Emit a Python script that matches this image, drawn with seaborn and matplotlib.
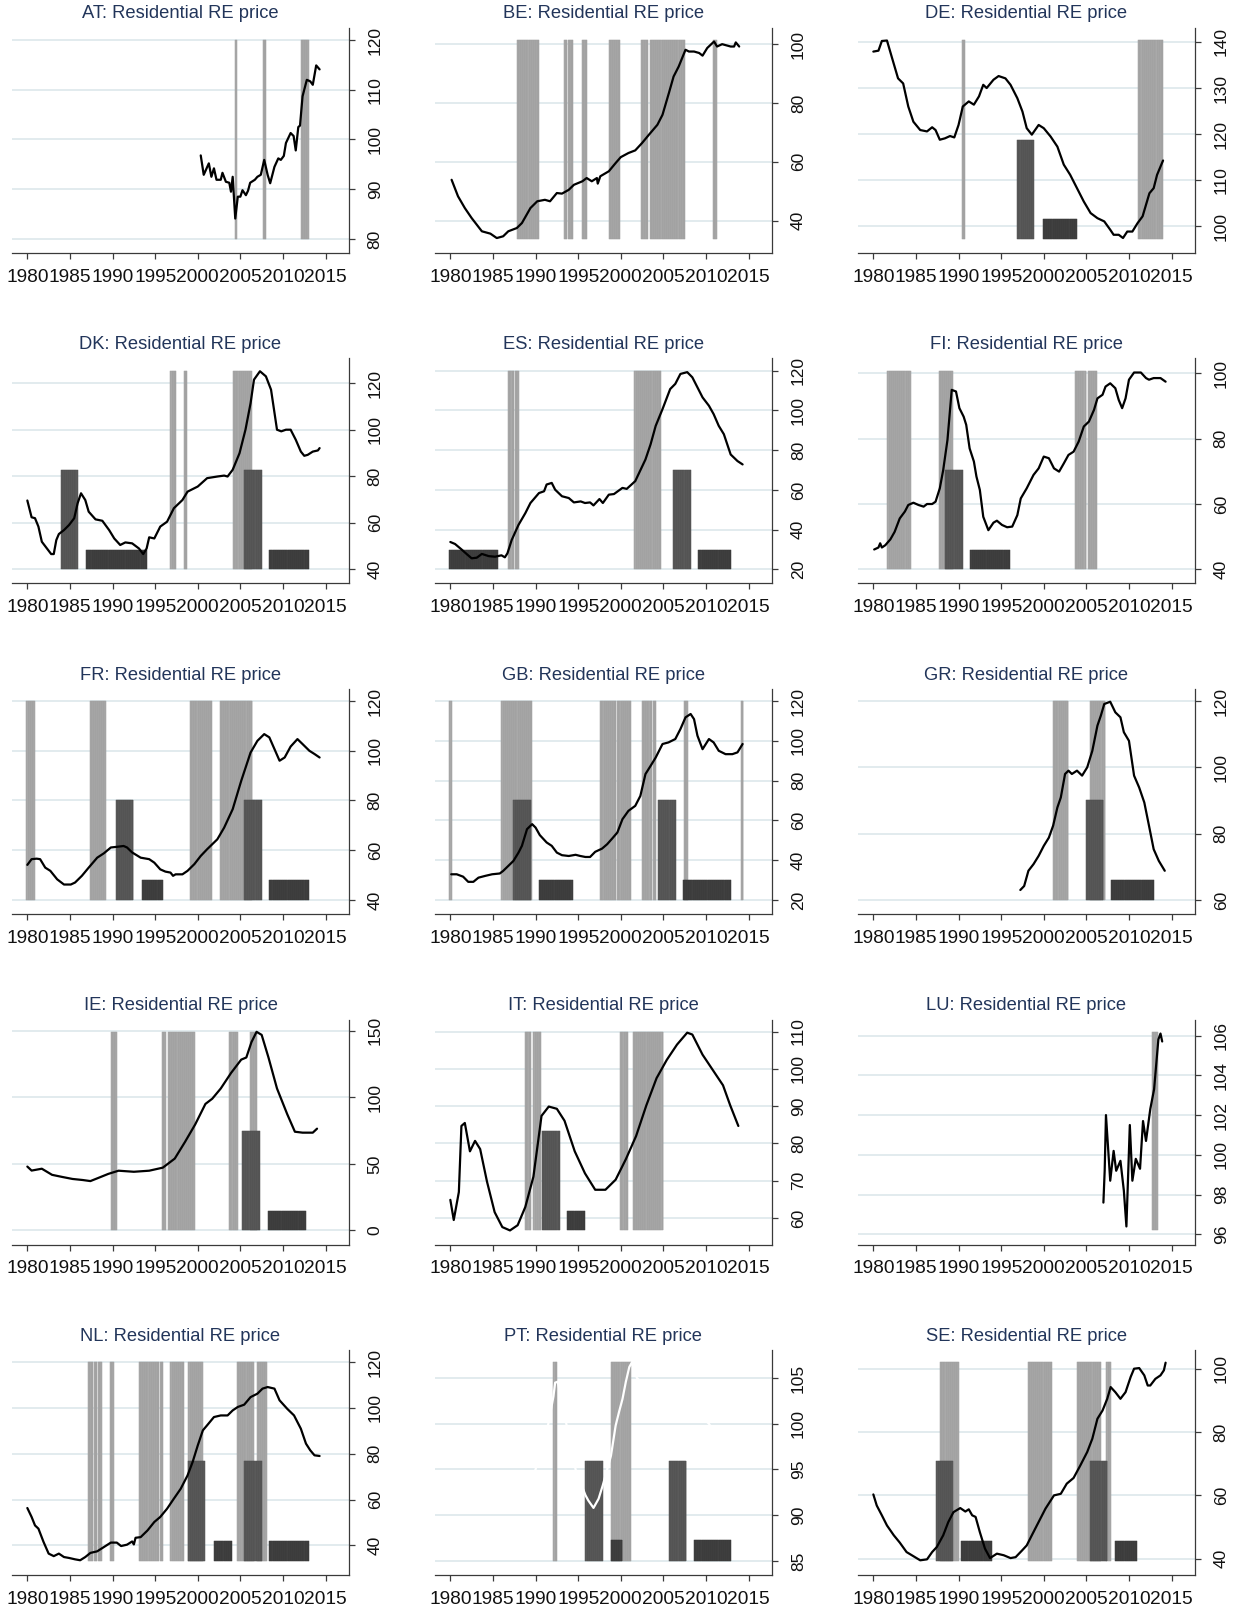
import numpy as np
import pandas as pd
import matplotlib
matplotlib.use("Agg")
import matplotlib.pyplot as plt
import seaborn as sns

sns.set_theme(style="white")
plt.rcParams["font.family"] = ["Liberation Sans", "DejaVu Sans"]

# ---------------------------------------------------------------- data
countries = ["AT", "BE", "DE", "DK", "ES", "FI", "FR", "GB", "GR",
             "IE", "IT", "LU", "NL", "PT", "SE"]
title_suffix = ": Residential RE price"
x_ticks = [1980, 1985, 1990, 1995, 2000, 2005, 2010, 2015]

# ---- AT
AT_series = [(2000.35, 96.8), (2000.7, 92.9), (2001.3, 95.2), (2001.6, 92.5), (2001.9, 94.2),
             (2002.2, 91.9), (2002.7, 91.9), (2002.9, 93.3), (2003.3, 91.5), (2003.7, 91.3),
             (2003.9, 89.5), (2004.1, 92.5), (2004.4, 84.1), (2004.7, 88.5), (2005.0, 88.5),
             (2005.25, 89.8), (2005.65, 88.8), (2005.9, 89.7), (2006.15, 91.3), (2006.7, 91.9),
             (2007.0, 92.5), (2007.4, 92.9), (2007.8, 95.9), (2008.2, 92.9), (2008.5, 91.2),
             (2009.0, 94.5), (2009.45, 96.2), (2009.75, 95.9), (2010.1, 96.7), (2010.35, 99.3),
             (2010.9, 101.3), (2011.25, 100.7), (2011.5, 97.8), (2011.8, 102.5), (2012.0, 102.8),
             (2012.3, 108.7), (2012.8, 112.0), (2013.2, 111.7), (2013.5, 111.0), (2013.9, 114.9),
             (2014.3, 114.1)]
AT_yticks = [80, 90, 100, 110, 120]
AT_range = (80, 120)
AT_bands = [(2004.4, 2004.65), (2007.6, 2008.0), (2012.1, 2013.0)]
AT_tall = []
AT_short = []
AT_bar_tops = (100, 84)

# ---- BE
BE_series = [(1980.15, 53.9), (1980.9, 48.3), (1981.7, 44.3), (1982.5, 40.9), (1983.7, 36.4),
             (1984.7, 35.6), (1985.45, 34.1), (1986.2, 34.7), (1986.8, 36.4), (1987.8, 37.5),
             (1988.4, 39.2), (1989.4, 44.3), (1990.2, 46.6), (1991.1, 47.1), (1991.7, 46.6),
             (1992.5, 49.4), (1993.1, 49.2), (1993.9, 50.5), (1994.5, 52.2), (1995.5, 53.4),
             (1996.0, 54.5), (1996.6, 53.4), (1997.2, 54.5), (1997.3, 52.6), (1997.6, 55.1),
             (1998.6, 56.8), (1999.4, 59.6), (2000.0, 61.6), (2000.9, 63.0), (2001.7, 63.9),
             (2002.5, 66.4), (2003.3, 69.2), (2004.3, 72.6), (2004.9, 76.0), (2005.65, 83.4),
             (2006.2, 89.0), (2006.8, 92.4), (2007.6, 98.1), (2008.0, 97.5), (2008.6, 97.5),
             (2009.2, 97.0), (2009.6, 96.1), (2010.15, 98.7), (2010.95, 100.9), (2011.3, 99.2),
             (2011.9, 100.0), (2012.9, 99.2), (2013.3, 99.2), (2013.5, 100.6), (2013.9, 99.2)]
BE_yticks = [40, 60, 80, 100]
BE_range = (33.8, 101.4)
BE_bands = [(1987.8, 1990.4), (1993.3, 1993.7), (1993.8, 1994.4), (1995.4, 1996.0),
            (1998.6, 1999.9), (2002.35, 2003.2), (2003.4, 2007.5), (2010.85, 2011.25)]
BE_tall = []
BE_short = []
BE_bar_tops = (67.6, 40.6)

# ---- DE
DE_series = [(1980.0, 137.9), (1980.6, 138.1), (1981.0, 140.2), (1981.6, 140.3), (1982.2, 136.5),
             (1982.9, 132.1), (1983.5, 131.0), (1984.1, 126.0), (1984.7, 122.7), (1985.5, 120.9),
             (1986.3, 120.6), (1986.9, 121.5), (1987.3, 120.9), (1987.8, 118.8), (1988.4, 119.1),
             (1989.0, 119.6), (1989.5, 119.3), (1990.0, 122.0), (1990.5, 126.0), (1991.2, 127.1),
             (1991.8, 126.4), (1992.4, 128.2), (1992.9, 130.7), (1993.3, 130.0), (1994.1, 131.8),
             (1994.7, 132.6), (1995.5, 132.1), (1996.1, 130.7), (1996.9, 127.8), (1997.5, 124.9),
             (1998.0, 121.3), (1998.6, 119.9), (1999.4, 122.0), (2000.0, 121.3), (2000.8, 119.5),
             (2001.6, 117.3), (2002.35, 113.4), (2003.1, 111.2), (2003.9, 108.3), (2004.7, 105.4),
             (2005.5, 102.9), (2006.3, 101.8), (2007.1, 101.1), (2007.8, 99.3), (2008.2, 98.2),
             (2008.8, 98.2), (2009.3, 97.5), (2009.8, 98.9), (2010.4, 98.9), (2011.0, 100.7),
             (2011.6, 102.2), (2012.4, 107.2), (2012.9, 108.3), (2013.3, 111.2), (2014.0, 114.3)]
DE_yticks = [100, 110, 120, 130, 140]
DE_range = (97.3, 140.4)
DE_bands = [(1990.4, 1990.7), (2011.1, 2014.0)]
DE_tall = [(1996.9, 1998.9)]
DE_short = [(1999.9, 2003.9)]
DE_bar_tops = (118.8, 101.7)

# ---- DK
DK_series = [(1980.0, 69.6), (1980.5, 62.4), (1980.9, 62.0), (1981.3, 58.4), (1981.7, 51.9),
             (1982.3, 49.0), (1982.8, 46.6), (1983.1, 46.6), (1983.4, 52.6), (1983.7, 55.2),
             (1984.3, 56.9), (1984.9, 59.1), (1985.5, 62.0), (1985.9, 68.4), (1986.3, 72.7),
             (1986.8, 69.8), (1987.2, 64.8), (1988.0, 61.5), (1988.8, 60.9), (1989.6, 56.9),
             (1990.2, 53.3), (1990.9, 50.5), (1991.5, 51.6), (1992.3, 51.2), (1993.1, 49.0),
             (1993.6, 46.6), (1994.0, 49.0), (1994.3, 53.8), (1994.9, 53.3), (1995.6, 58.4),
             (1996.4, 60.5), (1997.2, 66.3), (1998.2, 69.8), (1998.8, 73.4), (2000.0, 75.6),
             (2001.1, 79.2), (2002.3, 79.9), (2003.1, 80.3), (2003.5, 79.9), (2004.1, 82.8),
             (2004.9, 89.9), (2005.6, 100.0), (2006.2, 111.4), (2006.6, 121.5), (2007.3, 125.1),
             (2008.0, 122.9), (2008.6, 117.2), (2009.3, 100.0), (2009.8, 99.3), (2010.35, 100.0),
             (2010.9, 100.0), (2011.5, 95.7), (2012.1, 90.6), (2012.5, 88.8), (2012.9, 89.2),
             (2013.5, 90.6), (2014.1, 91.1), (2014.3, 92.1)]
DK_yticks = [40, 60, 80, 100, 120]
DK_range = (40, 125.4)
DK_bands = [(1996.8, 1997.5), (1998.4, 1998.7), (2004.15, 2006.4)]
DK_tall = [(1983.9, 1985.9), (2005.4, 2007.5)]
DK_short = [(1986.9, 1994.0), (2008.4, 2013.0)]
DK_bar_tops = (82.8, 48.3)

# ---- ES
ES_series = [(1980.0, 33.8), (1980.55, 32.8), (1981.3, 30.1), (1981.9, 27.8), (1982.5, 25.6),
             (1983.1, 25.9), (1983.7, 27.8), (1984.5, 26.7), (1985.25, 26.4), (1986.0, 27.1),
             (1986.4, 26.1), (1986.7, 28.1), (1987.2, 34.8), (1988.0, 42.4), (1988.8, 48.3),
             (1989.4, 53.4), (1990.4, 58.4), (1991.0, 59.3), (1991.3, 62.7), (1991.9, 63.5),
             (1992.3, 60.1), (1993.1, 56.8), (1993.9, 55.9), (1994.5, 53.7), (1995.3, 54.2),
             (1995.8, 53.4), (1996.4, 53.7), (1996.8, 52.2), (1997.5, 55.4), (1997.9, 53.4),
             (1998.6, 57.6), (1999.2, 57.9), (2000.2, 61.0), (2000.7, 60.5), (2001.7, 64.4),
             (2002.9, 75.3), (2003.5, 82.9), (2004.1, 92.2), (2004.9, 100.6), (2005.8, 110.7),
             (2006.4, 113.3), (2007.0, 118.3), (2007.8, 119.2), (2008.4, 116.6), (2009.6, 106.5),
             (2010.35, 102.3), (2010.9, 98.1), (2011.5, 92.2), (2012.1, 88.0), (2012.9, 77.8),
             (2013.7, 74.5), (2014.3, 72.8)]
ES_yticks = [20, 40, 60, 80, 100, 120]
ES_range = (20, 120)
ES_bands = [(1986.8, 1987.5), (1987.6, 1988.0), (2001.6, 2004.7)]
ES_tall = [(2006.1, 2008.2)]
ES_short = [(1979.9, 1985.6), (2009.1, 2012.9)]
ES_bar_tops = (70.1, 29.8)

# ---- FI
FI_series = [(1980.1, 46.1), (1980.6, 46.7), (1980.8, 48.0), (1981.0, 46.7), (1981.4, 47.4),
             (1982.0, 49.2), (1982.5, 51.5), (1983.1, 55.6), (1983.7, 57.7), (1984.1, 59.7),
             (1984.7, 60.4), (1985.3, 59.7), (1985.9, 59.2), (1986.3, 60.0), (1986.9, 60.0),
             (1987.3, 60.7), (1987.8, 64.8), (1988.2, 70.4), (1988.7, 79.6), (1989.2, 94.9),
             (1989.7, 94.4), (1990.1, 89.3), (1990.6, 86.7), (1990.9, 84.2), (1991.3, 77.0),
             (1991.8, 73.0), (1992.1, 68.4), (1992.5, 64.3), (1992.9, 56.1), (1993.5, 52.0),
             (1994.1, 54.3), (1994.5, 54.9), (1995.1, 53.6), (1995.7, 52.9), (1996.3, 53.1),
             (1996.9, 56.6), (1997.3, 61.7), (1998.0, 64.8), (1998.8, 68.9), (1999.4, 70.9),
             (2000.0, 74.5), (2000.6, 74.0), (2001.2, 70.9), (2001.8, 69.9), (2002.35, 72.4),
             (2002.9, 75.0), (2003.5, 76.0), (2004.1, 79.1), (2004.7, 83.7), (2005.3, 85.2),
             (2005.9, 88.8), (2006.3, 92.3), (2006.9, 93.4), (2007.25, 95.9), (2007.8, 96.9),
             (2008.4, 95.4), (2008.8, 91.8), (2009.2, 89.3), (2009.6, 92.3), (2010.0, 98.0),
             (2010.6, 100.2), (2011.4, 100.2), (2012.0, 98.5), (2012.35, 98.0), (2012.9, 98.5),
             (2013.7, 98.5), (2014.3, 97.4)]
FI_yticks = [40, 60, 80, 100]
FI_range = (40, 100.8)
FI_bands = [(1981.65, 1984.4), (1987.65, 1989.4), (2003.65, 2005.0), (2005.15, 2006.2)]
FI_tall = [(1988.4, 1990.5)]
FI_short = [(1991.4, 1996.0)]
FI_bar_tops = (70.3, 45.9)

# ---- FR
FR_series = [(1980.0, 54.1), (1980.5, 56.4), (1981.1, 56.6), (1981.5, 56.4), (1982.1, 53.0),
             (1982.7, 51.7), (1983.5, 48.3), (1984.3, 46.2), (1985.1, 46.2), (1985.6, 47.0),
             (1986.4, 49.7), (1987.2, 53.0), (1988.2, 57.0), (1989.0, 58.8), (1989.8, 61.1),
             (1990.35, 61.3), (1991.3, 61.7), (1991.7, 61.1), (1992.3, 59.1), (1993.3, 57.0),
             (1994.3, 56.4), (1994.9, 55.0), (1995.6, 52.3), (1996.2, 51.4), (1996.8, 51.0),
             (1997.1, 49.7), (1997.4, 50.3), (1998.2, 50.3), (1998.8, 51.7), (1999.6, 54.4),
             (2000.35, 57.7), (2001.1, 60.4), (2002.3, 64.4), (2003.1, 69.1), (2004.1, 76.5),
             (2005.1, 87.9), (2006.2, 99.3), (2007.0, 104.0), (2007.8, 106.7), (2008.4, 105.4),
             (2009.0, 100.7), (2009.6, 96.0), (2010.2, 97.3), (2010.9, 101.7), (2011.7, 104.7),
             (2012.3, 102.7), (2013.1, 100.0), (2013.7, 98.7), (2014.3, 97.3)]
FR_yticks = [40, 60, 80, 100, 120]
FR_range = (40, 120)
FR_bands = [(1979.9, 1980.9), (1987.3, 1989.2), (1999.1, 2001.7), (2002.6, 2006.4)]
FR_tall = [(1990.35, 1992.4), (2005.4, 2007.5)]
FR_short = [(1993.4, 1995.9), (2008.4, 2013.0)]
FR_bar_tops = (80.0, 48.2)

# ---- GB
GB_series = [(1980.1, 32.9), (1980.75, 32.9), (1981.5, 31.7), (1982.1, 29.1), (1982.7, 29.1),
             (1983.3, 31.2), (1984.1, 32.1), (1984.9, 32.9), (1985.8, 33.3), (1986.2, 34.6),
             (1986.8, 37.1), (1987.4, 39.6), (1988.0, 43.8), (1988.4, 47.2), (1989.0, 55.6),
             (1989.6, 58.1), (1990.0, 56.4), (1990.5, 52.6), (1991.3, 48.9), (1991.9, 47.2),
             (1992.5, 43.8), (1993.1, 42.5), (1993.9, 42.1), (1994.7, 42.7), (1995.25, 42.1),
             (1995.85, 41.6), (1996.4, 41.6), (1997.0, 44.2), (1997.8, 45.8), (1998.4, 48.0),
             (1999.0, 50.9), (1999.6, 53.9), (2000.2, 60.6), (2000.9, 64.8), (2001.7, 67.3),
             (2002.3, 72.3), (2002.9, 83.3), (2003.5, 87.4), (2004.1, 91.6), (2004.9, 98.4),
             (2005.6, 99.2), (2006.4, 100.9), (2007.0, 105.9), (2007.6, 111.8), (2008.2, 113.5),
             (2008.6, 110.9), (2009.0, 102.6), (2009.6, 95.8), (2010.35, 100.9), (2010.9, 99.2),
             (2011.5, 95.0), (2012.3, 93.3), (2013.1, 93.3), (2013.7, 94.2), (2014.3, 98.4)]
GB_yticks = [20, 40, 60, 80, 100, 120]
GB_range = (20, 120)
GB_bands = [(1979.9, 1980.15), (1986.0, 1989.6), (1997.6, 1999.4), (1999.6, 2001.25),
            (2002.5, 2003.7), (2003.8, 2004.15), (2007.4, 2007.9), (2014.1, 2014.4)]
GB_tall = [(1987.4, 1989.45), (2004.35, 2006.5)]
GB_short = [(1990.35, 1994.35), (2007.3, 2012.9)]
GB_bar_tops = (70.0, 30.2)

# ---- GR
GR_series = [(1997.25, 63.0), (1997.7, 64.2), (1998.2, 68.8), (1998.8, 70.8), (1999.4, 73.3),
             (2000.0, 76.3), (2000.6, 78.8), (2001.1, 82.4), (2001.6, 87.9), (2002.0, 90.9),
             (2002.5, 98.0), (2002.9, 99.0), (2003.3, 98.0), (2003.9, 99.0), (2004.5, 97.5),
             (2005.1, 100.0), (2005.7, 105.0), (2006.3, 112.6), (2006.7, 115.6), (2007.1, 119.1),
             (2007.8, 119.8), (2008.4, 116.6), (2009.0, 115.1), (2009.4, 110.6), (2010.0, 108.0),
             (2010.6, 97.5), (2011.2, 93.9), (2011.8, 89.4), (2012.35, 82.4), (2012.9, 75.3),
             (2013.5, 71.8), (2014.2, 68.8)]
GR_yticks = [60, 80, 100, 120]
GR_range = (60, 120)
GR_bands = [(2001.1, 2002.9), (2005.4, 2007.2)]
GR_tall = [(2004.9, 2006.95)]
GR_short = [(2007.85, 2012.9)]
GR_bar_tops = (90.0, 66.0)

# ---- IE
IE_series = [(1980.0, 48.0), (1980.5, 45.0), (1981.7, 46.4), (1982.9, 41.8), (1984.1, 40.2),
             (1985.3, 38.7), (1986.5, 37.9), (1987.4, 37.1), (1988.3, 39.4), (1989.5, 42.5),
             (1990.7, 44.9), (1992.5, 44.1), (1994.3, 44.9), (1995.9, 47.2), (1997.3, 54.0),
             (1998.5, 66.5), (1999.7, 79.7), (2000.9, 95.1), (2001.7, 99.0), (2002.7, 106.7),
             (2003.9, 118.3), (2005.1, 128.4), (2005.7, 130.0), (2006.3, 141.5), (2006.9, 149.3),
             (2007.5, 147.0), (2008.3, 130.0), (2009.3, 106.7), (2010.5, 87.4), (2011.4, 74.2),
             (2012.3, 73.5), (2013.5, 73.5), (2014.0, 76.5)]
IE_yticks = [0, 50, 100, 150]
IE_range = (0, 149.5)
IE_bands = [(1989.8, 1990.55), (1995.8, 1996.3), (1996.5, 1999.7), (2003.7, 2004.7),
            (2006.1, 2007.0)]
IE_tall = [(2005.2, 2007.3)]
IE_short = [(2008.2, 2012.7)]
IE_bar_tops = (74.5, 14.5)

# ---- IT
IT_series = [(1980.0, 64.9), (1980.4, 59.5), (1981.0, 67.0), (1981.3, 84.7), (1981.7, 85.5),
             (1982.3, 77.9), (1982.9, 80.7), (1983.5, 78.5), (1984.3, 69.8), (1985.2, 61.6),
             (1986.1, 57.6), (1987.0, 56.7), (1987.9, 58.1), (1988.8, 63.0), (1989.75, 71.1),
             (1990.7, 87.4), (1991.55, 89.9), (1992.5, 89.3), (1993.4, 86.1), (1994.6, 77.9),
             (1995.8, 72.0), (1997.0, 67.6), (1998.2, 67.6), (1999.4, 70.3), (2000.6, 75.8),
             (2001.8, 82.0), (2003.0, 90.2), (2004.2, 97.5), (2005.4, 102.4), (2006.6, 106.5),
             (2007.8, 109.7), (2008.4, 109.2), (2009.6, 103.8), (2010.8, 99.7), (2012.0, 95.6),
             (2012.85, 90.2), (2013.8, 84.7)]
IT_yticks = [60, 70, 80, 90, 100, 110]
IT_range = (56.7, 110)
IT_bands = [(1988.8, 1989.5), (1989.75, 1990.6), (1999.95, 2000.8), (2001.4, 2005.0)]
IT_tall = [(1990.7, 1992.9)]
IT_short = [(1993.7, 1995.8)]
IT_bar_tops = (83.3, 62.0)

# ---- LU
LU_series = [(2007.0, 97.6), (2007.15, 99.2), (2007.3, 102.0), (2007.8, 98.7), (2008.2, 100.2),
             (2008.5, 99.2), (2009.0, 99.7), (2009.4, 98.2), (2009.7, 96.4), (2010.1, 101.5),
             (2010.4, 98.7), (2010.8, 99.8), (2011.3, 99.3), (2011.65, 101.7), (2012.0, 100.7),
             (2012.5, 102.3), (2012.95, 103.3), (2013.45, 105.8), (2013.7, 106.1), (2013.9, 105.7)]
LU_yticks = [96, 98, 100, 102, 104, 106]
LU_range = (96.2, 106.2)
LU_bands = [(2012.7, 2013.45)]
LU_tall = []
LU_short = []
LU_bar_tops = (101.2, 97.2)

# ---- NL
NL_series = [(1980.0, 56.3), (1980.5, 52.4), (1980.9, 48.7), (1981.3, 47.3), (1981.9, 41.5),
             (1982.5, 36.4), (1983.1, 35.3), (1983.7, 36.4), (1984.3, 34.9), (1984.9, 34.5),
             (1985.6, 33.9), (1986.2, 33.5), (1986.8, 34.9), (1987.4, 36.7), (1988.2, 37.4),
             (1989.0, 39.3), (1989.8, 41.2), (1990.5, 41.2), (1991.0, 39.7), (1991.7, 40.3),
             (1992.3, 41.7), (1992.5, 40.4), (1992.7, 43.3), (1993.3, 43.6), (1994.1, 46.5),
             (1994.9, 50.2), (1995.6, 52.4), (1996.4, 56.0), (1997.2, 60.4), (1998.0, 64.7),
             (1998.8, 70.5), (1999.4, 76.4), (2000.0, 83.6), (2000.6, 90.2), (2001.1, 92.4),
             (2001.9, 96.0), (2002.7, 96.7), (2003.5, 96.7), (2004.1, 98.9), (2004.7, 100.4),
             (2005.45, 101.4), (2006.2, 104.7), (2007.0, 106.2), (2007.6, 108.4), (2008.2, 109.1),
             (2009.0, 108.4), (2009.6, 103.3), (2010.5, 99.6), (2011.3, 96.7), (2012.1, 90.9),
             (2012.7, 84.4), (2013.2, 81.5), (2013.7, 79.3), (2014.3, 79.0)]
NL_yticks = [40, 60, 80, 100, 120]
NL_range = (33.2, 120)
NL_bands = [(1987.1, 1987.7), (1987.85, 1988.2), (1988.3, 1988.75), (1989.65, 1990.15),
            (1993.1, 1995.4), (1995.6, 1995.9), (1996.8, 1998.4), (1998.9, 2000.6),
            (2004.6, 2006.6), (2006.9, 2008.15)]
NL_tall = [(1998.9, 2000.9), (2005.4, 2007.5)]
NL_short = [(2001.9, 2004.0), (2008.4, 2013.0)]
NL_bar_tops = (76.8, 42.0)

# ---- PT (line drawn in white in the original)
PT_series = [(1988.5, 92.0), (1990.0, 95.0), (1991.5, 100.0), (1992.1, 103.0), (1992.3, 104.5),
             (1992.6, 104.6), (1993.5, 100.5), (1994.7, 95.0), (1995.85, 92.2), (1996.2, 91.6),
             (1996.8, 90.8), (1997.4, 91.8), (1997.9, 93.3), (1998.85, 96.5), (1999.4, 99.8),
             (1999.8, 101.3), (2000.2, 102.7), (2000.6, 104.6), (2001.0, 106.2), (2001.3, 106.7),
             (2001.9, 105.0), (2003.0, 104.0), (2005.0, 103.0), (2007.0, 102.5), (2009.0, 101.2),
             (2010.35, 100.0), (2012.0, 97.5), (2014.0, 95.5)]
PT_yticks = [85, 90, 95, 100, 105]
PT_range = (85, 106.75)
PT_bands = [(1992.1, 1992.5), (1998.85, 2001.2)]
PT_tall = [(1995.85, 1997.9), (2005.65, 2007.7)]
PT_short = [(1998.85, 2000.2), (2008.6, 2012.9)]
PT_bar_tops = (95.9, 87.26)

# ---- SE
SE_series = [(1980.0, 60.3), (1980.4, 56.8), (1981.0, 53.7), (1981.6, 50.5), (1982.4, 47.4),
             (1983.1, 45.1), (1983.9, 42.1), (1984.7, 40.8), (1985.5, 39.5), (1986.3, 39.8),
             (1986.9, 42.1), (1987.45, 43.7), (1988.2, 47.4), (1988.8, 51.6), (1989.4, 54.7),
             (1990.2, 56.0), (1990.8, 54.9), (1991.2, 55.6), (1991.6, 53.7), (1992.0, 53.2),
             (1992.5, 48.4), (1993.1, 43.2), (1993.7, 40.2), (1994.5, 41.6), (1995.3, 41.1),
             (1996.1, 40.2), (1996.7, 40.5), (1997.45, 42.6), (1998.0, 44.2), (1998.6, 47.4),
             (1999.4, 51.6), (2000.2, 55.8), (2001.2, 60.0), (2002.0, 60.5), (2002.7, 63.7),
             (2003.5, 65.5), (2004.3, 69.5), (2005.1, 73.7), (2005.7, 77.9), (2006.3, 84.2),
             (2006.9, 86.8), (2007.45, 90.5), (2007.85, 94.2), (2008.4, 92.6), (2009.0, 90.5),
             (2009.6, 92.6), (2010.2, 97.4), (2010.6, 100.0), (2011.2, 100.2), (2011.8, 97.9),
             (2012.2, 94.7), (2012.5, 94.7), (2013.1, 96.8), (2013.7, 97.9), (2014.1, 99.5),
             (2014.3, 101.9)]
SE_yticks = [40, 60, 80, 100]
SE_range = (39.3, 102.1)
SE_bands = [(1987.85, 1990.0), (1998.1, 2001.0), (2003.85, 2006.75), (2007.35, 2007.85)]
SE_tall = [(1987.4, 1989.4), (2005.4, 2007.45)]
SE_short = [(1990.3, 1993.9), (2008.35, 2011.0)]
SE_bar_tops = (70.8, 45.7)

# ---------------------------------------------------------------- styles
TITLE_COLOR = "#22355a"
GRID_COLOR = "#dfe9ed"
BAND_COLOR = "#a9a9a9"
BAND_EDGE = "#9c9c9c"
TALL_COLOR = "#5a5a5a"
TALL_EDGE = "#4e4e4e"
SHORT_COLOR = "#414141"
SHORT_EDGE = "#363636"
AXIS_COLOR = "#3a3a3a"
TEXT_COLOR = "#111111"

FIG_W, FIG_H = 1245, 1610
COL_LEFT = [12, 435, 858]
AX_W = 337
ROW_TOP0 = 28
ROW_PITCH = 330.5
AX_H = 225

g = globals()
fig = plt.figure(figsize=(FIG_W / 100, FIG_H / 100), dpi=100)
fig.patch.set_facecolor("white")


def quarter_bars(ax, spans, bottom, top, color, edge, z):
    for s, e in spans:
        starts = np.arange(s, e - 1e-6, 0.25)
        widths = np.minimum(0.25, e - starts)
        ax.bar(starts, top - bottom, width=widths, bottom=bottom, align="edge",
               color=color, edgecolor=edge, linewidth=0.35, zorder=z)


for i, code in enumerate(countries):
    r, c = divmod(i, 3)
    left = COL_LEFT[c]
    top = ROW_TOP0 + ROW_PITCH * r
    ax = fig.add_axes([left / FIG_W, 1 - (top + AX_H) / FIG_H, AX_W / FIG_W, AX_H / FIG_H])
    ax.set_facecolor("white")

    series = g[code + "_series"]
    lo, hi = g[code + "_range"]
    yt = g[code + "_yticks"]
    tall_top, short_top = g[code + "_bar_tops"]
    span = hi - lo

    ax.set_xlim(1978.2, 2017.75)
    ax.set_ylim(lo - span * 14 / 198, hi + span * 12 / 198)

    ax.set_axisbelow(True)
    ax.yaxis.grid(True, color=GRID_COLOR, linewidth=1.3)
    ax.xaxis.grid(False)

    quarter_bars(ax, g[code + "_bands"], lo, hi, BAND_COLOR, BAND_EDGE, 1)
    quarter_bars(ax, g[code + "_tall"], lo, tall_top, TALL_COLOR, TALL_EDGE, 2)
    quarter_bars(ax, g[code + "_short"], lo, short_top, SHORT_COLOR, SHORT_EDGE, 2)

    df = pd.DataFrame(series, columns=["year", "price"])
    line_color = "white" if code == "PT" else "black"
    sns.lineplot(data=df, x="year", y="price", ax=ax, color=line_color,
                 linewidth=1.6, estimator=None, sort=False, zorder=3)
    ax.set_xlabel("")
    ax.set_ylabel("")

    for side in ("left", "top"):
        ax.spines[side].set_visible(False)
    for side in ("right", "bottom"):
        ax.spines[side].set_visible(True)
        ax.spines[side].set_color(AXIS_COLOR)
        ax.spines[side].set_linewidth(0.9)

    ax.yaxis.tick_right()
    ax.set_yticks(yt)
    ax.set_yticklabels([str(v) for v in yt], rotation=90, va="center", ha="left")
    ax.tick_params(axis="y", which="major", right=True, left=False, direction="out",
                   length=4.5, width=0.9, color=AXIS_COLOR, labelsize=12.5,
                   labelcolor=TEXT_COLOR, pad=9)
    ax.set_xticks(x_ticks)
    ax.set_xticklabels([str(v) for v in x_ticks])
    ax.tick_params(axis="x", which="major", bottom=True, direction="out",
                   length=4.5, width=0.9, color=AXIS_COLOR, labelsize=13.8,
                   labelcolor=TEXT_COLOR, pad=7)

    ax.text(0.5, 1 + 14 / AX_H, code + title_suffix, transform=ax.transAxes,
            ha="center", va="center", fontsize=13.2, color=TITLE_COLOR)

fig.savefig("out.png", dpi=100, facecolor="white")
